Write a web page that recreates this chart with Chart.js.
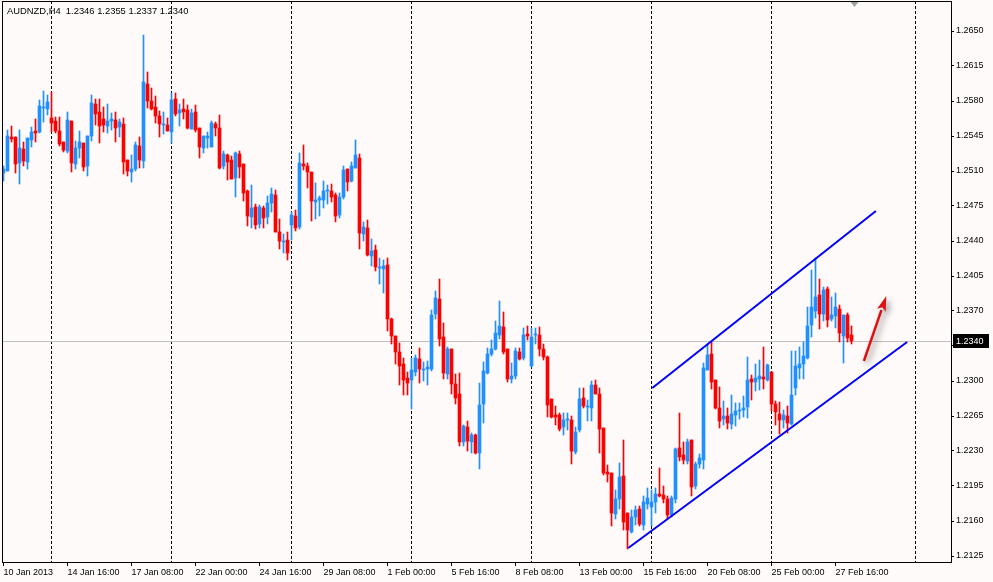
<!DOCTYPE html>
<html>
<head>
<meta charset="utf-8">
<title>AUDNZD,H4</title>
<script src="https://cdn.jsdelivr.net/npm/chart.js@4.4.1/dist/chart.umd.min.js"></script>
<style>
  html, body { margin: 0; padding: 0; background: #fffafa; }
  #wrap { width: 993px; height: 582px; }
</style>
</head>
<body>
<div id="wrap"><canvas id="chart" width="993" height="582"></canvas></div>
<script>
// --- AUDNZD H4 candles, bar 0 = 10 Jan 2013 00:00, bar 212 = 28 Feb 08:00 ---
const opens = [
  1.2508, 1.2510, 1.2544, 1.2544, 1.2518, 1.2532, 1.2519, 1.2541, 1.2550, 1.2549,
  1.2573, 1.2572, 1.2563, 1.2560, 1.2550, 1.2539, 1.2530, 1.2560, 1.2517, 1.2533,
  1.2538, 1.2515, 1.2545, 1.2577, 1.2569, 1.2562, 1.2555, 1.2560, 1.2561, 1.2554,
  1.2557, 1.2521, 1.2509, 1.2512, 1.2535, 1.2520, 1.2597, 1.2580, 1.2574, 1.2565,
  1.2556, 1.2556, 1.2549, 1.2582, 1.2568, 1.2572, 1.2571, 1.2552, 1.2569, 1.2553,
  1.2533, 1.2543, 1.2534, 1.2557, 1.2553, 1.2515, 1.2526, 1.2521, 1.2503, 1.2527,
  1.2517, 1.2490, 1.2464, 1.2474, 1.2457, 1.2473, 1.2464, 1.2478, 1.2486, 1.2449,
  1.2439, 1.2441, 1.2456, 1.2465, 1.2454, 1.2517, 1.2515, 1.2509, 1.2479, 1.2481,
  1.2481, 1.2490, 1.2490, 1.2486, 1.2466, 1.2484, 1.2512, 1.2500, 1.2513, 1.2523,
  1.2447, 1.2453, 1.2425, 1.2431, 1.2413, 1.2412, 1.2416, 1.2362, 1.2345, 1.2329,
  1.2317, 1.2303, 1.2301, 1.2309, 1.2322, 1.2311, 1.2312, 1.2312, 1.2367, 1.2382,
  1.2344, 1.2307, 1.2332, 1.2297, 1.2287, 1.2239, 1.2254, 1.2239, 1.2246, 1.2228,
  1.2277, 1.2308, 1.2327, 1.2332, 1.2346, 1.2354, 1.2332, 1.2302, 1.2305, 1.2329,
  1.2323, 1.2347, 1.2315, 1.2346, 1.2346, 1.2332, 1.2324, 1.2282, 1.2266, 1.2266,
  1.2254, 1.2261, 1.2261, 1.2229, 1.2251, 1.2283, 1.2274, 1.2273, 1.2296, 1.2287,
  1.2253, 1.2209, 1.2208, 1.2167, 1.2182, 1.2205, 1.2168, 1.2149, 1.2164, 1.2172,
  1.2156, 1.2177, 1.2174, 1.2179, 1.2187, 1.2186, 1.2182, 1.2166, 1.2182, 1.2233,
  1.2226, 1.2220, 1.2241, 1.2195, 1.2217, 1.2221, 1.2311, 1.2327, 1.2301, 1.2273,
  1.2262, 1.2265, 1.2257, 1.2266, 1.2270, 1.2271, 1.2274, 1.2302, 1.2299, 1.2302,
  1.2304, 1.2301, 1.2309, 1.2277, 1.2267, 1.2261, 1.2265, 1.2257, 1.2293, 1.2313,
  1.2317, 1.2323, 1.2356, 1.2370, 1.2386, 1.2367, 1.2392, 1.2362, 1.2365, 1.2372,
  1.2345, 1.2366, 1.2346
];
const highs = [
  1.2515, 1.2551, 1.2555, 1.2544, 1.2551, 1.2539, 1.2543, 1.2554, 1.2562, 1.2581,
  1.2590, 1.2586, 1.2589, 1.2564, 1.2564, 1.2539, 1.2569, 1.2560, 1.2540, 1.2550,
  1.2538, 1.2545, 1.2586, 1.2582, 1.2582, 1.2574, 1.2577, 1.2568, 1.2569, 1.2562,
  1.2563, 1.2521, 1.2526, 1.2539, 1.2544, 1.2646, 1.2609, 1.2593, 1.2585, 1.2570,
  1.2569, 1.2563, 1.2588, 1.2588, 1.2577, 1.2582, 1.2576, 1.2572, 1.2576, 1.2553,
  1.2545, 1.2549, 1.2560, 1.2559, 1.2566, 1.2530, 1.2527, 1.2525, 1.2529, 1.2530,
  1.2517, 1.2491, 1.2496, 1.2477, 1.2476, 1.2475, 1.2485, 1.2493, 1.2491, 1.2462,
  1.2447, 1.2449, 1.2469, 1.2471, 1.2528, 1.2536, 1.2518, 1.2509, 1.2498, 1.2485,
  1.2500, 1.2496, 1.2497, 1.2488, 1.2488, 1.2515, 1.2512, 1.2519, 1.2541, 1.2527,
  1.2459, 1.2461, 1.2442, 1.2436, 1.2423, 1.2421, 1.2423, 1.2363, 1.2345, 1.2338,
  1.2323, 1.2309, 1.2323, 1.2326, 1.2333, 1.2319, 1.2320, 1.2371, 1.2390, 1.2402,
  1.2358, 1.2334, 1.2332, 1.2307, 1.2308, 1.2256, 1.2260, 1.2248, 1.2247, 1.2298,
  1.2319, 1.2333, 1.2341, 1.2360, 1.2380, 1.2369, 1.2332, 1.2318, 1.2333, 1.2333,
  1.2353, 1.2355, 1.2353, 1.2353, 1.2354, 1.2337, 1.2325, 1.2282, 1.2275, 1.2268,
  1.2268, 1.2268, 1.2265, 1.2254, 1.2293, 1.2293, 1.2281, 1.2300, 1.2301, 1.2293,
  1.2253, 1.2216, 1.2208, 1.2191, 1.2218, 1.2241, 1.2168, 1.2171, 1.2175, 1.2175,
  1.2185, 1.2193, 1.2191, 1.2193, 1.2213, 1.2195, 1.2185, 1.2185, 1.2233, 1.2268,
  1.2239, 1.2242, 1.2241, 1.2219, 1.2227, 1.2318, 1.2337, 1.2339, 1.2301, 1.2294,
  1.2280, 1.2273, 1.2286, 1.2278, 1.2278, 1.2285, 1.2324, 1.2306, 1.2317, 1.2321,
  1.2334, 1.2317, 1.2309, 1.2280, 1.2279, 1.2271, 1.2275, 1.2330, 1.2330, 1.2334,
  1.2339, 1.2374, 1.2411, 1.2423, 1.2402, 1.2394, 1.2394, 1.2384, 1.2388, 1.2376,
  1.2366, 1.2368, 1.2355
];
const lows = [
  1.2500, 1.2510, 1.2539, 1.2508, 1.2497, 1.2515, 1.2512, 1.2534, 1.2539, 1.2548,
  1.2559, 1.2566, 1.2549, 1.2548, 1.2535, 1.2529, 1.2528, 1.2509, 1.2512, 1.2523,
  1.2510, 1.2505, 1.2540, 1.2556, 1.2538, 1.2549, 1.2548, 1.2551, 1.2539, 1.2544,
  1.2507, 1.2505, 1.2499, 1.2510, 1.2513, 1.2513, 1.2573, 1.2571, 1.2558, 1.2544,
  1.2547, 1.2550, 1.2538, 1.2565, 1.2555, 1.2562, 1.2552, 1.2552, 1.2549, 1.2523,
  1.2528, 1.2533, 1.2534, 1.2545, 1.2512, 1.2512, 1.2501, 1.2502, 1.2484, 1.2503,
  1.2480, 1.2455, 1.2453, 1.2452, 1.2453, 1.2453, 1.2457, 1.2469, 1.2449, 1.2432,
  1.2428, 1.2421, 1.2441, 1.2450, 1.2452, 1.2511, 1.2493, 1.2460, 1.2462, 1.2465,
  1.2473, 1.2477, 1.2479, 1.2459, 1.2463, 1.2482, 1.2490, 1.2499, 1.2513, 1.2432,
  1.2440, 1.2425, 1.2415, 1.2410, 1.2397, 1.2388, 1.2350, 1.2337, 1.2317, 1.2296,
  1.2286, 1.2286, 1.2272, 1.2305, 1.2298, 1.2300, 1.2296, 1.2310, 1.2362, 1.2335,
  1.2302, 1.2302, 1.2287, 1.2277, 1.2235, 1.2235, 1.2230, 1.2228, 1.2227, 1.2212,
  1.2258, 1.2307, 1.2325, 1.2331, 1.2342, 1.2327, 1.2299, 1.2298, 1.2302, 1.2321,
  1.2321, 1.2341, 1.2314, 1.2337, 1.2325, 1.2321, 1.2264, 1.2263, 1.2256, 1.2250,
  1.2246, 1.2251, 1.2217, 1.2227, 1.2249, 1.2273, 1.2260, 1.2260, 1.2287, 1.2228,
  1.2206, 1.2199, 1.2155, 1.2162, 1.2172, 1.2151, 1.2132, 1.2148, 1.2156, 1.2155,
  1.2151, 1.2172, 1.2155, 1.2168, 1.2184, 1.2178, 1.2162, 1.2164, 1.2178, 1.2220,
  1.2217, 1.2217, 1.2185, 1.2192, 1.2213, 1.2212, 1.2311, 1.2292, 1.2272, 1.2253,
  1.2256, 1.2252, 1.2252, 1.2255, 1.2262, 1.2264, 1.2263, 1.2281, 1.2290, 1.2291,
  1.2292, 1.2300, 1.2270, 1.2256, 1.2247, 1.2253, 1.2248, 1.2256, 1.2286, 1.2302,
  1.2302, 1.2322, 1.2344, 1.2363, 1.2352, 1.2360, 1.2354, 1.2360, 1.2353, 1.2339,
  1.2318, 1.2339, 1.2337
];
const closes = [
  1.2512, 1.2545, 1.2542, 1.2517, 1.2533, 1.2520, 1.2543, 1.2549, 1.2548, 1.2575,
  1.2574, 1.2579, 1.2558, 1.2550, 1.2537, 1.2531, 1.2561, 1.2518, 1.2533, 1.2539,
  1.2514, 1.2545, 1.2578, 1.2567, 1.2555, 1.2556, 1.2560, 1.2562, 1.2553, 1.2559,
  1.2519, 1.2510, 1.2512, 1.2536, 1.2521, 1.2599, 1.2580, 1.2572, 1.2565, 1.2557,
  1.2557, 1.2550, 1.2581, 1.2567, 1.2571, 1.2569, 1.2553, 1.2568, 1.2551, 1.2534,
  1.2545, 1.2545, 1.2558, 1.2553, 1.2513, 1.2527, 1.2519, 1.2502, 1.2528, 1.2514,
  1.2488, 1.2465, 1.2473, 1.2456, 1.2474, 1.2463, 1.2478, 1.2487, 1.2449, 1.2440,
  1.2440, 1.2428, 1.2466, 1.2453, 1.2518, 1.2515, 1.2509, 1.2480, 1.2481, 1.2483,
  1.2490, 1.2491, 1.2484, 1.2465, 1.2484, 1.2511, 1.2499, 1.2515, 1.2526, 1.2448,
  1.2454, 1.2426, 1.2430, 1.2414, 1.2414, 1.2415, 1.2362, 1.2345, 1.2329, 1.2315,
  1.2301, 1.2298, 1.2311, 1.2323, 1.2312, 1.2312, 1.2314, 1.2366, 1.2383, 1.2342,
  1.2308, 1.2332, 1.2297, 1.2283, 1.2239, 1.2255, 1.2240, 1.2246, 1.2228, 1.2276,
  1.2310, 1.2327, 1.2332, 1.2348, 1.2355, 1.2329, 1.2302, 1.2305, 1.2330, 1.2322,
  1.2346, 1.2345, 1.2344, 1.2347, 1.2332, 1.2324, 1.2276, 1.2264, 1.2264, 1.2252,
  1.2261, 1.2262, 1.2230, 1.2249, 1.2282, 1.2275, 1.2275, 1.2296, 1.2287, 1.2252,
  1.2208, 1.2207, 1.2168, 1.2182, 1.2204, 1.2159, 1.2151, 1.2164, 1.2171, 1.2157,
  1.2179, 1.2183, 1.2179, 1.2187, 1.2185, 1.2182, 1.2166, 1.2183, 1.2232, 1.2224,
  1.2221, 1.2239, 1.2194, 1.2217, 1.2223, 1.2313, 1.2326, 1.2299, 1.2273, 1.2260,
  1.2265, 1.2258, 1.2267, 1.2270, 1.2271, 1.2273, 1.2301, 1.2299, 1.2303, 1.2305,
  1.2302, 1.2316, 1.2277, 1.2269, 1.2261, 1.2266, 1.2258, 1.2286, 1.2315, 1.2317,
  1.2325, 1.2355, 1.2374, 1.2384, 1.2367, 1.2391, 1.2361, 1.2366, 1.2374, 1.2348,
  1.2366, 1.2343, 1.2340
];

// time axis: one label every 16 bars
const xTickIdx = [0, 16, 32, 48, 64, 80, 96, 112, 128, 144, 160, 176, 192, 208];
const xLabels = ['10 Jan 2013', '14 Jan 16:00', '17 Jan 08:00', '22 Jan 00:00', '24 Jan 16:00',
  '29 Jan 08:00', '1 Feb 00:00', '5 Feb 16:00', '8 Feb 08:00', '13 Feb 00:00',
  '15 Feb 16:00', '20 Feb 08:00', '25 Feb 00:00', '27 Feb 16:00'];
const yTicks = [1.2125, 1.2160, 1.2195, 1.2230, 1.2265, 1.2300, 1.2335, 1.2370,
  1.2405, 1.2440, 1.2475, 1.2510, 1.2545, 1.2580, 1.2615, 1.2650];

// week separators (bar index), bid line, drawn channel + arrow
const weekLines = [12, 42, 72, 102, 132, 162, 192, 228];
const bidPrice = 1.2340;
const upperChannel = [[162.2, 1.2293], [218.1, 1.2470]];
const lowerChannel = [[156.2, 1.2133], [225.9, 1.2339]];
const arrowPts = [[215.1, 1.2320], [220.7, 1.2385]];
const shiftMarkIdx = 212.75;
const titleText = 'AUDNZD,H4  1.2346 1.2355 1.2337 1.2340';

const BULL = '#1e90ff';
const BEAR = '#ff0000';
const axisFont = { family: 'Liberation Sans, Arial, sans-serif', size: 9 };

const candleColors = opens.map((o, i) => closes[i] >= o ? BULL : BEAR);

const mt4Overlay = {
    id: 'mt4Overlay',
    beforeDraw(chart) {
        const ctx = chart.ctx;
        ctx.save();
        ctx.fillStyle = '#fffafa';
        ctx.fillRect(0, 0, chart.width, chart.height);
        ctx.restore();
    },
    beforeDatasetsDraw(chart) {
        const { ctx, chartArea: a, scales: { x, y } } = chart;
        ctx.save();
        // dashed week separators
        ctx.strokeStyle = '#000';
        ctx.lineWidth = 1;
        ctx.setLineDash([3, 2]);
        weekLines.forEach(v => {
            const px = Math.floor(x.getPixelForValue(v)) + 0.5;
            ctx.beginPath();
            ctx.moveTo(px, a.top);
            ctx.lineTo(px, a.bottom);
            ctx.stroke();
        });
        ctx.setLineDash([]);
        // bid line
        const by = Math.round(y.getPixelForValue(bidPrice)) + 0.5;
        ctx.strokeStyle = '#c0c0c0';
        ctx.beginPath();
        ctx.moveTo(a.left, by);
        ctx.lineTo(a.right, by);
        ctx.stroke();
        ctx.restore();
    },
    afterDatasetsDraw(chart) {
        const { ctx, scales: { x, y } } = chart;
        const x0 = x.getPixelForValue(arrowPts[0][0]), y0 = y.getPixelForValue(arrowPts[0][1]);
        const x1 = x.getPixelForValue(arrowPts[1][0]), y1 = y.getPixelForValue(arrowPts[1][1]);
        const ang = Math.atan2(y1 - y0, x1 - x0);
        const headLen = 15, headW = 4.5;
        const bx = x1 - Math.cos(ang) * headLen, by = y1 - Math.sin(ang) * headLen;
        ctx.save();
        ctx.shadowColor = 'rgba(0,0,0,0.45)';
        ctx.shadowBlur = 6;
        ctx.shadowOffsetX = 3;
        ctx.shadowOffsetY = 3;
        ctx.strokeStyle = '#e01010';
        ctx.fillStyle = '#e01010';
        ctx.lineWidth = 2.5;
        ctx.beginPath();
        ctx.moveTo(x0, y0);
        ctx.lineTo(bx, by);
        ctx.stroke();
        ctx.beginPath();
        ctx.moveTo(x1, y1);
        ctx.lineTo(bx + Math.sin(ang) * headW, by - Math.cos(ang) * headW);
        ctx.lineTo(bx + Math.cos(ang) * 3, by + Math.sin(ang) * 3);
        ctx.lineTo(bx - Math.sin(ang) * headW, by + Math.cos(ang) * headW);
        ctx.closePath();
        ctx.fill();
        ctx.restore();
    },
    afterDraw(chart) {
        const { ctx, chartArea: a, scales: { x, y } } = chart;
        ctx.save();
        // frame
        ctx.strokeStyle = '#000';
        ctx.lineWidth = 1;
        ctx.strokeRect(a.left + 0.5, a.top + 0.5, a.right - a.left, a.bottom - a.top);
        // chart shift marker
        const sx = x.getPixelForValue(shiftMarkIdx);
        ctx.fillStyle = '#a0a0a0';
        ctx.beginPath();
        ctx.moveTo(sx - 4, a.top + 1);
        ctx.lineTo(sx + 4, a.top + 1);
        ctx.lineTo(sx, a.top + 6);
        ctx.closePath();
        ctx.fill();
        // current price box
        const py = Math.round(y.getPixelForValue(bidPrice));
        ctx.fillStyle = '#000';
        ctx.fillRect(a.right + 2, py - 7, 36, 14);
        ctx.fillStyle = '#fff';
        ctx.font = '9px ' + axisFont.family;
        ctx.textBaseline = 'middle';
        ctx.textAlign = 'left';
        ctx.fillText(bidPrice.toFixed(4), a.right + 5, py + 0.5);
        // symbol / OHLC caption
        ctx.fillStyle = '#000';
        ctx.font = '9.4px ' + axisFont.family;
        ctx.fillText(titleText, a.left + 5, a.top + 10);
        ctx.restore();
    }
};

new Chart(document.getElementById('chart'), {
    type: 'bar',
    data: {
        datasets: [
            {
                label: 'wicks',
                data: opens.map((o, i) => ({ x: i, y: [lows[i], highs[i]] })),
                backgroundColor: candleColors,
                barThickness: 1,
                grouped: false,
                order: 3
            },
            {
                label: 'bodies',
                data: opens.map((o, i) => ({ x: i, y: [o, closes[i]] })),
                backgroundColor: candleColors,
                barThickness: 3,
                minBarLength: 1,
                grouped: false,
                order: 2
            },
            {
                type: 'line',
                label: 'upper channel',
                data: upperChannel.map(p => ({ x: p[0], y: p[1] })),
                borderColor: '#0000ff',
                borderWidth: 2,
                pointRadius: 0,
                fill: false,
                order: 1
            },
            {
                type: 'line',
                label: 'lower channel',
                data: lowerChannel.map(p => ({ x: p[0], y: p[1] })),
                borderColor: '#0000ff',
                borderWidth: 2,
                pointRadius: 0,
                fill: false,
                order: 1
            }
        ]
    },
    options: {
        responsive: false,
        animation: false,
        events: [],
        devicePixelRatio: 1,
        layout: { padding: { left: 2, top: 1, right: 0, bottom: 0 } },
        plugins: {
            legend: { display: false },
            tooltip: { enabled: false },
            title: { display: false }
        },
        scales: {
            x: {
                type: 'linear',
                min: -0.375,
                max: 236.875,
                offset: false,
                afterBuildTicks: s => { s.ticks = xTickIdx.map(v => ({ value: v })); },
                afterFit: s => { s.height = 20; s.paddingLeft = 0; s.paddingRight = 0; },
                ticks: {
                    align: 'start',
                    autoSkip: false,
                    maxRotation: 0,
                    padding: 1,
                    color: '#000',
                    font: axisFont,
                    callback: v => xLabels[xTickIdx.indexOf(v)]
                },
                grid: { drawOnChartArea: false, tickLength: 4, color: '#000', offset: false },
                border: { display: false }
            },
            y: {
                position: 'right',
                min: 1.2119,
                max: 1.2680,
                beginAtZero: false,
                afterBuildTicks: s => { s.ticks = yTicks.map(v => ({ value: v })); },
                afterFit: s => { s.width = 42; s.paddingTop = 0; s.paddingBottom = 0; },
                ticks: {
                    padding: 2,
                    color: '#000',
                    font: axisFont,
                    callback: v => v.toFixed(4)
                },
                grid: { drawOnChartArea: false, tickLength: 3, color: '#000' },
                border: { display: false }
            }
        }
    },
    plugins: [mt4Overlay]
});
</script>
</body>
</html>
